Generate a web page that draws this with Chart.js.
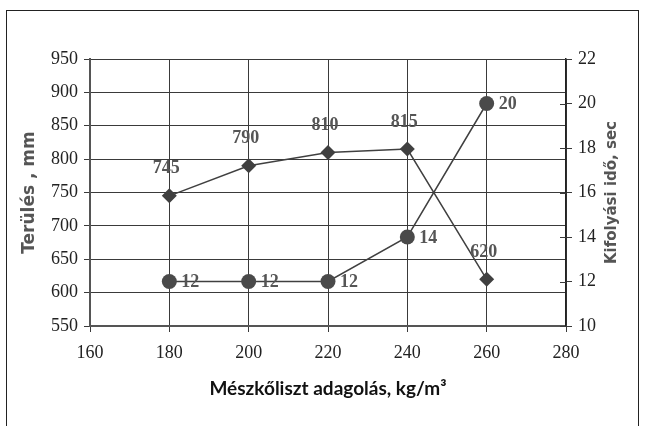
<!DOCTYPE html>
<html lang="hu">
<head>
    <meta charset="UTF-8">
    <title>Terülés és kifolyási idő</title>
    <script src="https://cdn.jsdelivr.net/npm/chart.js"></script>
    <style>
        body {
            margin: 0;
            padding: 0;
            background: #fff;
        }
        .wrap {
            position: relative;
            width: 645px;
            height: 426px;
            overflow: hidden;
        }
        .frame {
            position: absolute;
            left: 6px;
            top: 10px;
            width: 631px;
            height: 440px;
            border: 1.5px solid #222;
        }
        canvas {
            position: absolute;
            left: 0;
            top: 0;
        }
    </style>
</head>
<body>
    <div class="wrap">
        <div class="frame"></div>
        <canvas id="chart" width="645" height="426"></canvas>
    </div>
    <script>
// adagolás (kg/m3)
const dosage = [180, 200, 220, 240, 260];
// terülés, mm (left axis)
const spread = [745, 790, 810, 815, 620];
// kifolyási idő, sec (right axis)
const flowTime = [12, 12, 12, 14, 20];

const xTicks = [160, 180, 200, 220, 240, 260, 280];
const rightTitle = 'Kifolyási idő, sec';

const lineColor = '#404040';
const gridColor = '#3a3a3a';
const tickFont = { family: "'Liberation Serif', serif", size: 18 };

// draws value labels, the right axis title and the inner right ticks
const valueLabels = {
    id: 'valueLabels',
    afterDatasetsDraw(chart) {
        const ctx = chart.ctx;
        ctx.save();
        ctx.font = "bold 18px 'Liberation Serif', serif";
        ctx.fillStyle = '#555';
        ctx.textBaseline = 'middle';

        const m0 = chart.getDatasetMeta(0);
        ctx.textAlign = 'center';
        m0.data.forEach((pt, i) => {
            ctx.fillText(spread[i], pt.x - 3, pt.y - 27);
        });

        const m1 = chart.getDatasetMeta(1);
        ctx.textAlign = 'left';
        m1.data.forEach((pt, i) => {
            ctx.fillText(flowTime[i], pt.x + 12, pt.y + 1);
        });

        // inner part of right axis ticks
        const y1 = chart.scales.y1;
        ctx.strokeStyle = gridColor;
        ctx.lineWidth = 1;
        y1.ticks.forEach(t => {
            const py = Math.round(y1.getPixelForValue(t.value)) + 0.5;
            ctx.beginPath();
            ctx.moveTo(y1.left - 6, py);
            ctx.lineTo(y1.left, py);
            ctx.stroke();
        });

        // right title, reading bottom to top
        const midY = (y1.top + y1.bottom) / 2;
        ctx.translate(y1.right - 33, midY);
        ctx.rotate(-Math.PI / 2);
        ctx.textAlign = 'center';
        ctx.font = "bold 15px 'DejaVu Sans', sans-serif";
        ctx.fillStyle = '#555';
        ctx.fillText(rightTitle, 0, 0);
        ctx.restore();
    }
};

const ctx = document.getElementById('chart').getContext('2d');
new Chart(ctx, {
    type: 'scatter',
    data: {
        datasets: [
            {
                label: 'Terülés',
                data: dosage.map((x, i) => ({ x: x, y: spread[i] })),
                yAxisID: 'y',
                showLine: true,
                borderColor: lineColor,
                borderWidth: 1.5,
                backgroundColor: lineColor,
                pointStyle: 'rectRot',
                pointRadius: 7.5,
                pointBorderWidth: 0,
            },
            {
                label: 'Kifolyási idő',
                data: dosage.map((x, i) => ({ x: x, y: flowTime[i] })),
                yAxisID: 'y1',
                showLine: true,
                borderColor: lineColor,
                borderWidth: 1.5,
                backgroundColor: '#4a4a4a',
                pointStyle: 'circle',
                pointRadius: 7.5,
                pointBorderWidth: 0,
            },
        ],
    },
    options: {
        responsive: false,
        animation: false,
        layout: { padding: { top: 59, left: 0, right: 0, bottom: 0 } },
        plugins: {
            legend: { display: false },
            tooltip: { enabled: false },
        },
        scales: {
            x: {
                type: 'linear',
                min: 160,
                max: 280,
                afterBuildTicks: s => { s.ticks = xTicks.map(v => ({ value: v })); },
                afterFit: s => { s.height = 100; },
                grid: { color: gridColor, lineWidth: 1, tickLength: 6 },
                border: { color: '#555', width: 2 },
                ticks: { font: tickFont, color: '#222', padding: 10 },
                title: {
                    display: true,
                    text: 'Mészkőliszt adagolás, kg/m³',
                    font: { family: 'Lato', weight: 'bold', size: 19 },
                    color: '#111',
                    padding: { top: 0, bottom: 26 },
                },
            },
            y: {
                position: 'left',
                min: 550,
                max: 950,
                afterFit: s => { s.width = 90; },
                grid: { color: gridColor, lineWidth: 1, tickLength: 6 },
                border: { color: '#555', width: 2 },
                ticks: { stepSize: 50, font: tickFont, color: '#222', padding: 6 },
                title: {
                    display: true,
                    text: 'Terülés , mm',
                    font: { family: "'DejaVu Sans'", weight: 'bold', size: 17 },
                    color: '#555',
                    padding: { top: 19, bottom: 0 },
                },
            },
            y1: {
                position: 'right',
                min: 10,
                max: 22,
                afterFit: s => { s.width = 79; },
                grid: { drawOnChartArea: false, color: gridColor, lineWidth: 1, tickLength: 6 },
                border: { color: '#222', width: 1.5 },
                ticks: { stepSize: 2, font: tickFont, color: '#222', padding: 6 },
                title: { display: false },
            },
        },
    },
    plugins: [valueLabels],
});
    </script>
</body>
</html>
